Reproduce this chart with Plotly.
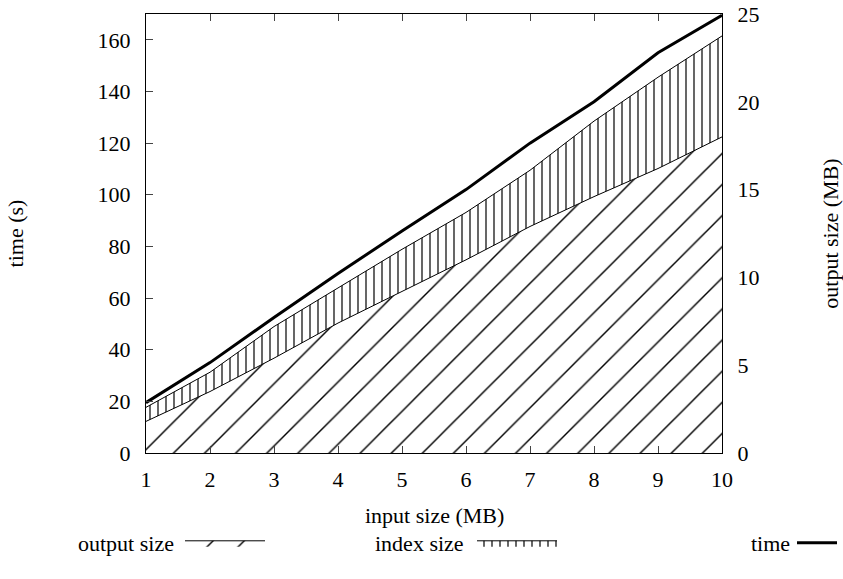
import plotly.graph_objects as go

input_size = [1, 2, 3, 4, 5, 6, 7, 8, 9, 10]
time_s = [19.5, 35, 52.5, 69.5, 86, 102, 120, 136, 155, 169.5]
output_size = [1.8, 3.5, 5.4, 7.4, 9.2, 11.0, 12.9, 14.6, 16.2, 18.0]
index_size = [0.8, 1.1, 1.8, 2.0, 2.4, 2.7, 3.2, 4.3, 5.2, 5.75]
legend_labels = ["output size", "index size", "time"]
x_title = "input size (MB)"

FONT = "Liberation Serif"

fig = go.Figure()
fig.add_trace(go.Scatter(
    x=input_size, y=output_size, name="", yaxis="y2",
    stackgroup="sizes", mode="lines",
    line=dict(color="black", width=1),
    fillcolor="white",
    fillpattern=dict(shape="/", fgcolor="black", fgopacity=1, bgcolor="white",
                     size=22, solidity=0.065),
    legend="legend",
))
fig.add_trace(go.Scatter(
    x=input_size, y=index_size, name="", yaxis="y2",
    stackgroup="sizes", mode="lines",
    line=dict(color="black", width=1),
    fillcolor="white",
    fillpattern=dict(shape="|", fgcolor="black", fgopacity=1, bgcolor="white",
                     size=8, solidity=0.15),
    legend="legend2",
))
fig.add_trace(go.Scatter(
    x=input_size, y=time_s, name="", mode="lines",
    line=dict(color="black", width=3),
    legend="legend3",
))

axis_common = dict(
    showgrid=False, zeroline=False, showline=True, linecolor="black", linewidth=1.3,
    tickfont=dict(family=FONT, size=22, color="black"),
    title_font=dict(family=FONT, size=22, color="black"),
    automargin=False,
)

LEG_PX = 543
LEG_Y = 1 - LEG_PX / 579
txt_font = dict(family=FONT, size=22, color="black")


def leg(x, width):
    return dict(orientation="h", bgcolor="rgba(0,0,0,0)", font=txt_font,
                xref="container", yref="container", yanchor="middle", y=LEG_Y,
                xanchor="left", x=x, itemwidth=width)


def label(text, x_px, y_px, anchor):
    return dict(text=text, xref="paper", yref="paper", x=(x_px - 146) / 576,
                y=-(y_px - 453) / 439, xanchor=anchor, yanchor="middle",
                showarrow=False, font=txt_font)


fig.update_layout(
    width=843, height=579,
    margin=dict(l=146, r=121, t=14, b=126),
    plot_bgcolor="white", paper_bgcolor="white",
    xaxis=dict(range=[1, 10], tickvals=input_size, ticks="inside", ticklen=7,
               mirror="ticks", ticklabelstandoff=6,
               **axis_common),
    yaxis=dict(range=[0, 170], tickvals=[0, 20, 40, 60, 80, 100, 120, 140, 160],
               ticks="inside", ticklen=7, ticklabelstandoff=10,
               title=dict(text="time (s)", standoff=67),
               **axis_common),
    yaxis2=dict(range=[0, 25], tickvals=[0, 5, 10, 15, 20, 25], overlaying="y", side="right",
                ticks="", ticklabelstandoff=10,
                title=dict(text="output size (MB)", standoff=68),
                **axis_common),
    legend=leg(180 / 843, 80),
    legend2=leg(472 / 843, 80),
    legend3=leg(792 / 843, 40),
    showlegend=True,
    annotations=[
        label(x_title, 434, 515, "center"),
        label(legend_labels[0], 176, LEG_PX, "right"),
        label(legend_labels[1], 466, LEG_PX, "right"),
        label(legend_labels[2], 792, LEG_PX, "right"),
    ],
)

fig.write_html("out.html")
